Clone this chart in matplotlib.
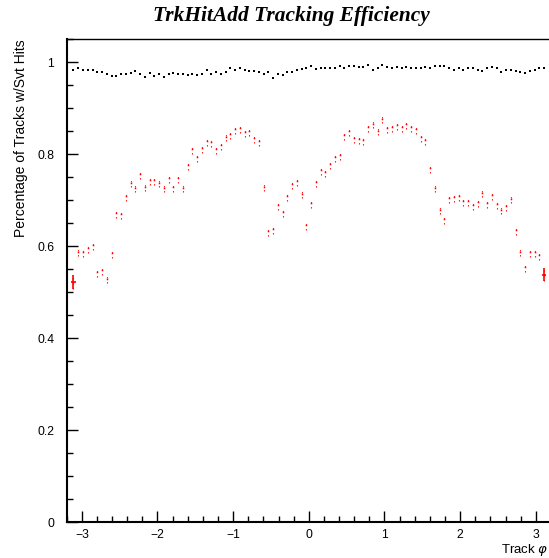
import numpy as np
import matplotlib
matplotlib.use("Agg")
import matplotlib.pyplot as plt

# 100 bins in phi from -pi to pi
n_bins = 100
phi_lo, phi_hi = -np.pi, np.pi

# fraction of tracks with svt hits (black, top)
eff_all = [
    0.982, 0.986, 0.982, 0.983, 0.983, 0.978, 0.978, 0.973, 0.969, 0.969,
    0.974, 0.973, 0.976, 0.981, 0.975, 0.967, 0.977, 0.969, 0.974, 0.967,
    0.973, 0.976, 0.973, 0.973, 0.971,
    0.975, 0.971, 0.975, 0.982, 0.973, 0.979, 0.975, 0.978, 0.988, 0.982,
    0.988, 0.982, 0.981, 0.981, 0.979, 0.975, 0.978, 0.965, 0.975, 0.971,
    0.979, 0.978, 0.983, 0.984, 0.988,
    0.991, 0.984, 0.986, 0.988, 0.988, 0.988, 0.992, 0.988, 0.991, 0.992,
    0.989, 0.989, 0.993, 0.983, 0.986, 0.994, 0.990, 0.986, 0.990, 0.988,
    0.990, 0.988, 0.988, 0.986, 0.990,
    0.986, 0.991, 0.991, 0.991, 0.988, 0.983, 0.986, 0.982, 0.986, 0.988,
    0.983, 0.981, 0.986, 0.990, 0.988, 0.978, 0.982, 0.982, 0.980, 0.979,
    0.976, 0.980, 0.983, 0.986, 0.987,
]

# TrkHitAdd efficiency (red, with errors)
eff_add = [
    0.521, 0.588, 0.586, 0.596, 0.602, 0.544, 0.548, 0.529, 0.585, 0.671,
    0.669, 0.708, 0.738, 0.727, 0.757, 0.729, 0.744, 0.743, 0.738, 0.727,
    0.747, 0.728, 0.747, 0.727, 0.776,
    0.810, 0.793, 0.813, 0.828, 0.826, 0.810, 0.820, 0.838, 0.843, 0.855,
    0.857, 0.848, 0.849, 0.834, 0.828, 0.729, 0.633, 0.636, 0.689, 0.674,
    0.709, 0.735, 0.741, 0.714, 0.645,
    0.693, 0.739, 0.765, 0.761, 0.778, 0.793, 0.798, 0.842, 0.849, 0.835,
    0.832, 0.830, 0.858, 0.866, 0.851, 0.877, 0.857, 0.858, 0.862, 0.858,
    0.865, 0.859, 0.855, 0.836, 0.831,
    0.770, 0.727, 0.679, 0.659, 0.705, 0.706, 0.709, 0.698, 0.698, 0.689,
    0.696, 0.716, 0.694, 0.710, 0.691, 0.679, 0.687, 0.703, 0.635, 0.588,
    0.555, 0.586, 0.586, 0.580, 0.538,
]
err_add = [0.015] + [0.0105] * 98 + [0.015]
xerr_edge = [0.03, 0.03]

edges = np.linspace(phi_lo, phi_hi, n_bins + 1)
centers = 0.5 * (edges[:-1] + edges[1:])

plt.rcParams['font.family'] = ['Liberation Sans', 'DejaVu Sans']

fig = plt.figure(figsize=(5.49, 5.58), dpi=100)
ax = fig.add_axes([0.1215, 0.0645, 0.882, 0.8656])

ax.plot(centers, eff_all, ls='none', marker='s', ms=1.6, color='black', mew=0)

eb = ax.errorbar(centers, eff_add, yerr=err_add, fmt='none', ecolor='red',
                 elinewidth=0.8)
eb[2][0].set_linestyle((0, (1.2, 3.3)))
ax.plot(centers, eff_add, ls='none', marker='s', ms=1.1, color='red', mew=0)
# edge bins drawn as crosses
ax.errorbar(centers[[0, -1]], np.array(eff_add)[[0, -1]],
            xerr=xerr_edge, yerr=np.array(err_add)[[0, -1]],
            fmt='none', ecolor='red', elinewidth=1.2)

ax.set_xlim(phi_lo, phi_hi)
ax.set_ylim(0, 1.05)
ax.set_xticks([-3, -2, -1, 0, 1, 2, 3])
ax.set_xticks(np.arange(-3.2, 3.21, 0.2), minor=True)
ax.set_yticks([0, 0.2, 0.4, 0.6, 0.8, 1])
ax.set_yticklabels(['0', '0.2', '0.4', '0.6', '0.8', '1'])
ax.set_yticks(np.arange(0, 1.051, 0.05), minor=True)
ax.set_xticklabels(['\u22123', '\u22122', '\u22121', '0', '1', '2', '3'])

ax.tick_params(which='both', direction='in', top=False, right=False,
               width=1, labelsize=8.7)
ax.tick_params(which='major', length=8)
ax.tick_params(which='minor', length=4.5)
ax.tick_params(axis='y', pad=9)
ax.tick_params(axis='x', pad=5)
for s in ['left', 'bottom']:
    ax.spines[s].set_linewidth(1.5)
for s in ['top', 'right']:
    ax.spines[s].set_linewidth(1.0)

ax.set_ylabel('Percentage of Tracks w/Svt Hits', loc='top', fontsize=10)
ax.yaxis.set_label_coords(-0.08, 1.0)
ax.set_xlabel('Track $\\varphi$', loc='right', fontsize=9.5)
ax.xaxis.set_label_coords(0.9938, -0.041)

fig.text(0.53, 0.972, 'TrkHitAdd Tracking Efficiency', ha='center', va='center',
         fontsize=15.4, fontweight='bold', fontstyle='italic',
         family='Liberation Serif')

fig.savefig('out.png', dpi=100)
